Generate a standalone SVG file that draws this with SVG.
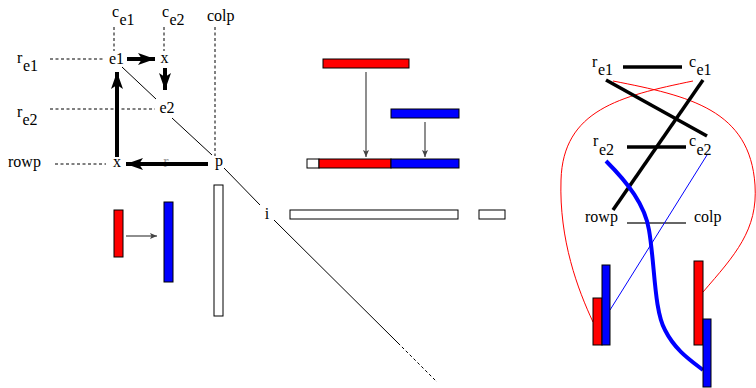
<svg xmlns="http://www.w3.org/2000/svg" width="756" height="388" viewBox="0 0 756 388">
  <defs>
    <style>
      text { font-family: "Liberation Serif", "Times New Roman", serif; font-size: 16px; fill: #000; }
      .dash { stroke: #000; stroke-width: 1; stroke-dasharray: 3 2.5; fill: none; }
      .thin { stroke: #000; stroke-width: 1; fill: none; }
      .thick { stroke: #000; stroke-width: 4; fill: none; }
      .gar { stroke: #444; stroke-width: 1.2; fill: none; }
      .bar { stroke: #000; stroke-width: 1; }
      .red { fill: #ff0000; }
      .blue { fill: #0000ff; }
      .white { fill: #fff; }
      .edge { stroke-width: 3.5; stroke: #000; fill: none; }
    </style>
    <marker id="bigHead" markerUnits="userSpaceOnUse" markerWidth="18" markerHeight="12" refX="17" refY="6" orient="auto">
      <path d="M0,0 L17,6 L0,12 L4,6 Z" fill="#000"/>
    </marker>
    <marker id="smallHead" markerUnits="userSpaceOnUse" markerWidth="8" markerHeight="6" refX="7" refY="3" orient="auto">
      <path d="M0,0 L7,3 L0,6 L1.5,3 Z" fill="#444"/>
    </marker>
  </defs>

  <!-- left panel: guide lines -->
  <g id="guides">
    <line class="dash" x1="114" y1="27" x2="114" y2="51"/>
    <line class="dash" x1="164" y1="27" x2="164" y2="51"/>
    <line class="dash" x1="215" y1="27" x2="215" y2="156"/>
    <line class="dash" x1="50" y1="59" x2="105" y2="59"/>
    <line class="dash" x1="50" y1="109" x2="155" y2="109"/>
    <line class="dash" x1="55" y1="164" x2="106" y2="164"/>
  </g>

  <!-- labels of rows and columns -->
  <g id="labels-left">
    <text x="112" y="17">c<tspan x="119.5" y="25">e1</tspan></text>
    <text x="162" y="17">c<tspan x="169.5" y="25">e2</tspan></text>
    <text x="207" y="21">colp</text>
    <text x="17" y="63">r<tspan x="23" y="71">e1</tspan></text>
    <text x="17" y="117">r<tspan x="22.5" y="125">e2</tspan></text>
    <text x="8" y="167">rowp</text>
  </g>

  <g id="node-e1"><text x="116.5" y="64" text-anchor="middle">e1</text></g>
  <g id="node-x-top"><text x="164.5" y="63" text-anchor="middle">x</text></g>
  <g id="node-e2"><text x="167" y="113" text-anchor="middle">e2</text></g>
  <g id="node-x-bottom"><text x="117" y="167" text-anchor="middle">x</text></g>
  <g id="node-r"><text x="166" y="167" text-anchor="middle" style="fill:#999">r</text></g>
  <g id="node-p"><text x="219" y="166" text-anchor="middle">p</text></g>
  <g id="node-i"><text x="267" y="219" text-anchor="middle">i</text></g>

  <!-- diagonal and pivot arrows -->
  <g id="connectors">
    <line class="thin" x1="122" y1="67" x2="156" y2="99"/>
    <line class="thin" x1="172" y1="118" x2="212" y2="155"/>
    <line class="thin" x1="224" y1="168" x2="260" y2="205"/>
    <line class="thin" x1="274" y1="220" x2="398" y2="343"/>
    <line class="dash" x1="398" y1="343" x2="437" y2="382"/>

    <line class="thick" x1="127" y1="59" x2="155" y2="59" stroke-width="3" marker-end="url(#bigHead)"/>
    <line class="thick" x1="165" y1="68" x2="165" y2="90" stroke-width="3" marker-end="url(#bigHead)"/>
    <line class="thick" x1="117" y1="157" x2="117" y2="72" marker-end="url(#bigHead)"/>
    <line class="thick" x1="208" y1="164" x2="126" y2="164" marker-end="url(#bigHead)"/>

    <line class="gar" x1="126" y1="236" x2="157" y2="236" marker-end="url(#smallHead)"/>
    <line class="gar" x1="366" y1="72" x2="366" y2="157" marker-end="url(#smallHead)"/>
    <line class="gar" x1="425" y1="122" x2="425" y2="157" marker-end="url(#smallHead)"/>
  </g>

  <!-- column and row storage -->
  <g id="col-red"><rect class="bar red" x="114" y="210" width="9" height="47"/></g>
  <g id="col-blue"><rect class="bar blue" x="164" y="202" width="9" height="80"/></g>
  <g id="col-p"><rect class="bar white" x="214" y="185" width="9" height="131"/></g>
  <g id="row-red"><rect class="bar red" x="323" y="59" width="86" height="9"/></g>
  <g id="row-blue"><rect class="bar blue" x="391" y="109" width="68" height="9"/></g>
  <g id="row-merged">
    <rect class="bar white" x="307" y="159" width="12" height="9"/>
    <rect class="bar red" x="319" y="159" width="72" height="9"/>
    <rect class="bar blue" x="391" y="159" width="68" height="9"/>
  </g>
  <g id="row-i">
    <rect class="bar white" x="290" y="210" width="168" height="9"/>
    <rect class="bar white" x="479" y="210" width="26" height="9"/>
  </g>

  <!-- right panel: links between lists -->
  <g id="links-right">
    <path d="M613,81 C690,96 750,110 755,185 C758,230 735,255 703,292" fill="none" stroke="#ff0000" stroke-width="1"/>
    <path d="M693,81 C620,96 563,110 561,180 C559,240 578,290 593,322" fill="none" stroke="#ff0000" stroke-width="1"/>
    <line class="edge" x1="623" y1="67" x2="682" y2="67"/>
    <line class="edge" x1="627" y1="147" x2="686" y2="147"/>
    <line class="edge" x1="606" y1="80" x2="707" y2="136"/>
    <line class="edge" x1="703" y1="80" x2="613" y2="210"/>
    <line x1="627" y1="223" x2="686" y2="223" stroke="#666" stroke-width="2"/>
    <line x1="707" y1="155" x2="610" y2="310" stroke="#0000ff" stroke-width="1"/>
    <path d="M606,161 C628,183 645,205 649,230 C655,265 654,310 665,330 C675,350 690,360 703,370" fill="none" stroke="#0000ff" stroke-width="4"/>
  </g>

  <g id="labels-right">
    <text x="592" y="67">r<tspan x="598" y="75">e1</tspan></text>
    <text x="689" y="67">c<tspan x="696.5" y="75">e1</tspan></text>
    <text x="593" y="146">r<tspan x="599" y="155">e2</tspan></text>
    <text x="689" y="146">c<tspan x="696.5" y="155">e2</tspan></text>
    <text x="585" y="222">rowp</text>
    <text x="694" y="222">colp</text>
  </g>

  <g id="bars-left">
    <rect class="bar red" x="593" y="298" width="9" height="47"/>
    <rect class="bar blue" x="602" y="265" width="8" height="80"/>
  </g>
  <g id="bars-right">
    <rect class="bar red" x="694" y="261" width="9" height="84"/>
    <rect class="bar blue" x="703" y="319" width="8" height="68"/>
  </g>
</svg>
